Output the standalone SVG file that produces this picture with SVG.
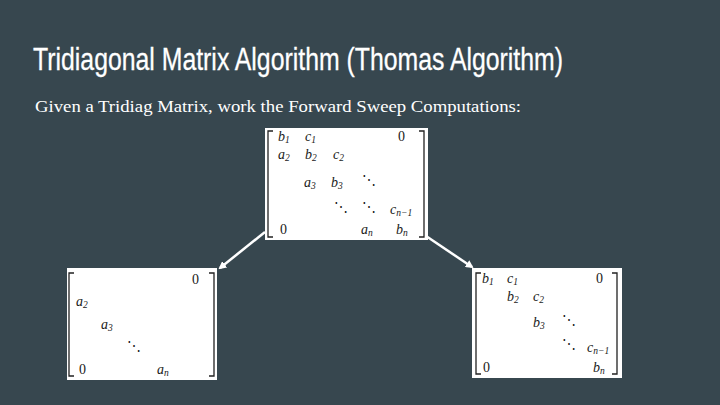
<svg xmlns="http://www.w3.org/2000/svg" width="720" height="405" viewBox="0 0 720 405">
<defs>
<style>
.title{font-family:"Liberation Sans",sans-serif;font-size:32px;fill:#ffffff;stroke:#ffffff;stroke-width:0.3}
.sub{font-family:"Liberation Serif",serif;font-size:16px;fill:#ffffff}
.box{fill:#ffffff}
.m{font-family:"Liberation Serif",serif;font-style:italic;font-size:14px;fill:#1a1a1a}
.z{font-family:"Liberation Serif",serif;font-size:14px;fill:#1a1a1a}
.s{font-size:9.5px}
.br{fill:none;stroke:#222;stroke-width:1.3}
.con{stroke:#ffffff;stroke-width:2.5;fill:none}
</style>
<marker id="ah" markerWidth="8" markerHeight="8" refX="6" refY="4" orient="auto" markerUnits="userSpaceOnUse">
<path d="M0,0 L8,4 L0,8 Z" fill="#ffffff"/>
</marker>
</defs>
<rect x="0" y="0" width="720" height="405" fill="#37474f"/>
<text class="title" x="33" y="70" textLength="530" lengthAdjust="spacingAndGlyphs">Tridiagonal Matrix Algorithm (Thomas Algorithm)</text>
<text class="sub" x="35" y="112" textLength="486" lengthAdjust="spacingAndGlyphs">Given a Tridiag Matrix, work the Forward Sweep Computations:</text>

<g id="connectors">
<line class="con" x1="265" y1="232" x2="220" y2="268" marker-end="url(#ah)"/>
<line class="con" x1="426" y1="236" x2="472" y2="267" marker-end="url(#ah)"/>
</g>

<g id="matrix-top">
<rect class="box" x="265" y="128" width="163" height="112"/>
<path class="br" d="M273,131 H268 V237 H273"/>
<path class="br" d="M419,131 H424 V237 H419"/>
<text class="m" x="278" y="141">b<tspan class="s" dy="2">1</tspan></text>
<text class="m" x="305" y="141">c<tspan class="s" dy="2">1</tspan></text>
<text class="z" x="398" y="141">0</text>
<text class="m" x="278" y="159">a<tspan class="s" dy="2">2</tspan></text>
<text class="m" x="305" y="159">b<tspan class="s" dy="2">2</tspan></text>
<text class="m" x="333" y="159">c<tspan class="s" dy="2">2</tspan></text>
<text class="m" x="304" y="187">a<tspan class="s" dy="2">3</tspan></text>
<text class="m" x="331" y="187">b<tspan class="s" dy="2">3</tspan></text>
<text class="z" x="362" y="185">⋱</text>
<text class="z" x="334" y="212">⋱</text>
<text class="z" x="362" y="212">⋱</text>
<text class="m" x="390" y="214">c<tspan class="s" dy="2">n−1</tspan></text>
<text class="z" x="280" y="234">0</text>
<text class="m" x="361" y="234">a<tspan class="s" dy="2">n</tspan></text>
<text class="m" x="396" y="234">b<tspan class="s" dy="2">n</tspan></text>
</g>

<g id="matrix-left">
<rect class="box" x="67" y="268" width="150" height="112"/>
<path class="br" d="M74,273 H69 V376 H74"/>
<path class="br" d="M209,273 H214 V376 H209"/>
<text class="z" x="192" y="284">0</text>
<text class="m" x="76" y="306">a<tspan class="s" dy="2">2</tspan></text>
<text class="m" x="101" y="329">a<tspan class="s" dy="2">3</tspan></text>
<text class="z" x="127" y="351">⋱</text>
<text class="z" x="79" y="374">0</text>
<text class="m" x="157" y="374">a<tspan class="s" dy="2">n</tspan></text>
</g>

<g id="matrix-right">
<rect class="box" x="472" y="268" width="150" height="110"/>
<path class="br" d="M481,273 H476 V374 H481"/>
<path class="br" d="M612,273 H617 V374 H612"/>
<text class="m" x="482" y="283">b<tspan class="s" dy="2">1</tspan></text>
<text class="m" x="507" y="283">c<tspan class="s" dy="2">1</tspan></text>
<text class="z" x="596" y="283">0</text>
<text class="m" x="507" y="301">b<tspan class="s" dy="2">2</tspan></text>
<text class="m" x="533" y="301">c<tspan class="s" dy="2">2</tspan></text>
<text class="m" x="533" y="327">b<tspan class="s" dy="2">3</tspan></text>
<text class="z" x="562" y="325">⋱</text>
<text class="z" x="562" y="349">⋱</text>
<text class="m" x="587" y="352">c<tspan class="s" dy="2">n−1</tspan></text>
<text class="z" x="483" y="372">0</text>
<text class="m" x="593" y="372">b<tspan class="s" dy="2">n</tspan></text>
</g>
</svg>
